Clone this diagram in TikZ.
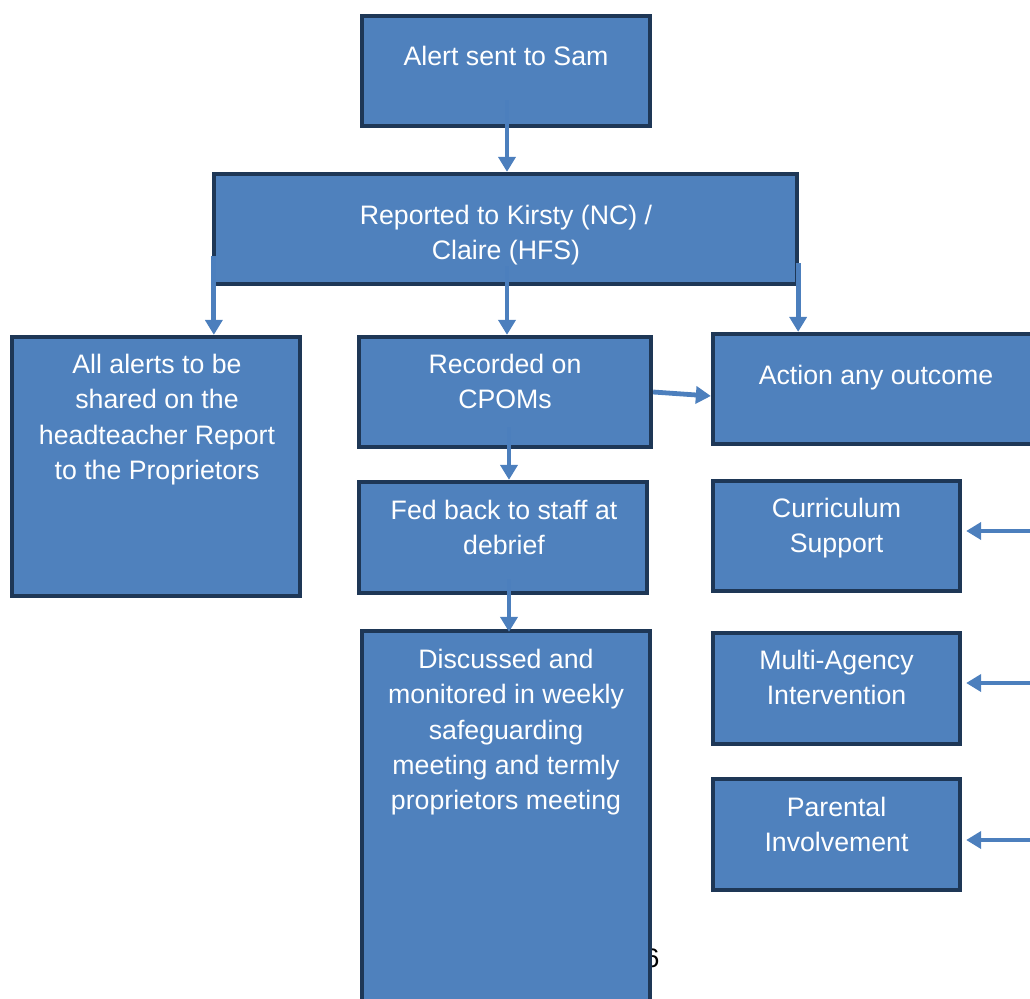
\documentclass[tikz,border=0pt]{standalone}
\usepackage{fontspec}
\setmainfont{Liberation Sans}
\usetikzlibrary{arrows.meta,calc}
\definecolor{boxfill}{RGB}{79,129,189}
\definecolor{boxline}{RGB}{30,55,86}
\definecolor{arrowc}{RGB}{76,127,189}
\tikzset{
  box/.style={draw=boxline, fill=boxfill, line width=3.8pt, inner sep=0pt, rectangle},
  lbl/.style={text=white, anchor=north, inner sep=0pt, align=center,
              font=\fontsize{26.7}{35.3}\selectfont},
  arr/.style={draw=arrowc, line width=4.8pt, -{Triangle[width=17pt,length=15pt]}},
  pagenum/.style={text=black, inner sep=0pt, font=\fontsize{26.7}{32}\selectfont}
}
\begin{document}
\begin{tikzpicture}[x=1pt,y=-1pt]
\useasboundingbox (0,0) rectangle (1030,998);
\clip (0,0) rectangle (1030,998);
% page number partly hidden
\node[pagenum] (pg) at (652,958) {6};
% boxes
\node[box, minimum width=288.5pt, minimum height=110.5pt] (alert) at (506,71) {};
\node[box, minimum width=583.5pt, minimum height=110.5pt] (reported) at (505.5,229) {};
\node[box, minimum width=288.5pt, minimum height=259.5pt] (alerts) at (156,466.5) {};
\node[box, minimum width=292.5pt, minimum height=110.5pt] (recorded) at (505,392) {};
\node[box, minimum width=345.5pt, minimum height=110.5pt] (action) at (885.5,389) {};
\node[box, minimum width=288.5pt, minimum height=111.5pt] (fed) at (503,537.5) {};
\node[box, minimum width=288.5pt, minimum height=467.5pt] (discussed) at (506,864.5) {};
\node[box, minimum width=247.5pt, minimum height=110.5pt] (curr) at (836.5,536) {};
\node[box, minimum width=247.5pt, minimum height=111.5pt] (multi) at (836.5,688.5) {};
\node[box, minimum width=247.5pt, minimum height=111.5pt] (parental) at (836.5,834.5) {};
% labels
\node[lbl] (talert) at ($(alert.north)+(0,32)$) {Alert sent to Sam};
\node[lbl] (treported) at ($(reported.north)+(0.5,33)$) {Reported to Kirsty (NC) /\\Claire (HFS)};
\node[lbl] (talerts) at ($(alerts.north)+(1,19)$) {All alerts to be\\shared on the\\headteacher Report\\to the Proprietors};
\node[lbl] (trecorded) at ($(recorded.north)+(0,19)$) {Recorded on\\CPOMs};
\node[lbl] (taction) at ($(action.north)+(-9.5,33)$) {Action any outcome};
\node[lbl] (tfed) at ($(fed.north)+(1,20)$) {Fed back to staff at\\debrief};
\node[lbl] (tdiscussed) at ($(discussed.north)+(0,20)$) {Discussed and\\monitored in weekly\\safeguarding\\meeting and termly\\proprietors meeting};
\node[lbl] (tcurr) at ($(curr.north)+(0,19)$) {Curriculum\\Support};
\node[lbl] (tmulti) at ($(multi.north)+(0,19)$) {Multi-Agency\\Intervention};
\node[lbl] (tparental) at ($(parental.north)+(0,20)$) {Parental\\Involvement};
% connector start points
\coordinate (s0) at ($(alert.south)+(1,-28)$);
\coordinate (s1) at ($(reported.south west)+(2,-30)$);
\coordinate (s2) at ($(reported.south)+(1.5,-20)$);
\coordinate (s3) at ($(reported.south east)+(-1,-23)$);
\coordinate (s4) at ($(recorded.south)+(4,-22)$);
\coordinate (s5) at ($(fed.south)+(6,-16)$);
\coordinate (r1) at (1040,531);
\coordinate (r2) at (1040,683);
\coordinate (r3) at (1040,840);
% connectors
\draw[arr] (s0) -- (s0 |- reported.north);
\draw[arr] (s1) -- (s1 |- alerts.north);
\draw[arr] (s2) -- (s2 |- recorded.north);
\draw[arr] (s3) -- (s3 |- action.north);
\draw[arr] (recorded.east) -- ($(action.west)+(0,7)$);
\draw[arr] (s4) -- (s4 |- fed.north);
\draw[arr] (s5) -- ($(s5 |- discussed.north)+(0,3)$);
\draw[arr] (r1) -- ($(r1 -| curr.east)+(4,0)$);
\draw[arr] (r2) -- ($(r2 -| multi.east)+(4,0)$);
\draw[arr] (r3) -- ($(r3 -| parental.east)+(4,0)$);
\end{tikzpicture}
\end{document}
